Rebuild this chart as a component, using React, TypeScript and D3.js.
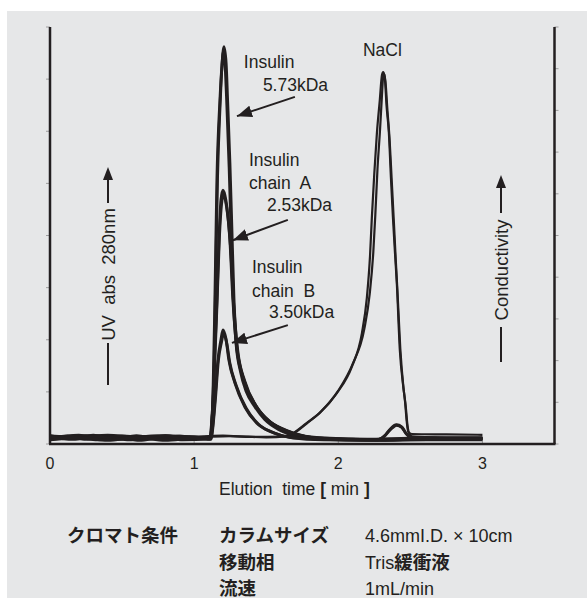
import React from "react";
import * as d3 from "d3";

// ---- data (time in min, UV abs / conductivity in arbitrary units) ----
const timeTicks = [0, 1, 2, 3];
const uvTicks = [0, 1, 2, 3, 4, 5, 6, 7, 8];
const condTicks = [0, 1, 2, 3, 4, 5, 6, 7, 8, 9, 10];

const insulinRun1: [number, number][] = [
  [0.0, 0.1], [0.12, 0.15], [0.25, 0.09], [0.4, 0.14], [0.55, 0.08], [0.7, 0.13], [0.85, 0.09], [1.0, 0.13],
  [1.11, 0.1], [1.118, 0.3], [1.13, 0.85], [1.144, 2.76], [1.158, 5.06], [1.179, 6.6], [1.193, 7.27], [1.207, 7.62],
  [1.222, 7.3], [1.232, 6.6], [1.248, 5.4], [1.262, 4.1], [1.276, 2.8], [1.292, 2.0], [1.325, 1.42], [1.368, 1.04],
  [1.425, 0.75], [1.495, 0.5], [1.59, 0.31], [1.7, 0.19], [1.8, 0.13], [1.95, 0.1], [2.1, 0.09], [2.27, 0.08],
  [2.32, 0.15], [2.36, 0.27], [2.405, 0.36], [2.44, 0.32], [2.47, 0.2], [2.5, 0.14], [2.7, 0.12], [3.0, 0.12],
];
const insulinRun2: [number, number][] = [
  [0.0, 0.16], [0.15, 0.11], [0.3, 0.17], [0.45, 0.1], [0.6, 0.16], [0.75, 0.1], [0.9, 0.15], [1.05, 0.1],
  [1.115, 0.12], [1.125, 0.5], [1.136, 1.1], [1.148, 2.9], [1.162, 5.1], [1.18, 6.5], [1.192, 7.2], [1.202, 7.52],
  [1.215, 7.25], [1.227, 6.5], [1.243, 5.3], [1.257, 4.0], [1.272, 2.75], [1.29, 1.95], [1.322, 1.38], [1.362, 1.0],
  [1.42, 0.72], [1.49, 0.47], [1.585, 0.28], [1.69, 0.17], [1.82, 0.11], [2.0, 0.08], [2.3, 0.07], [2.6, 0.1], [3.0, 0.1],
];
const chainARun1: [number, number][] = [
  [0.0, 0.12], [0.2, 0.17], [0.35, 0.1], [0.5, 0.15], [0.65, 0.1], [0.8, 0.16], [0.95, 0.11], [1.11, 0.12],
  [1.117, 0.2], [1.13, 0.84], [1.158, 2.76], [1.172, 3.91], [1.186, 4.68], [1.2, 4.87], [1.22, 4.68], [1.248, 3.91],
  [1.269, 2.76], [1.297, 1.8], [1.345, 1.23], [1.422, 0.75], [1.512, 0.46], [1.63, 0.27], [1.768, 0.15], [1.94, 0.11],
  [2.2, 0.09], [2.5, 0.11], [3.0, 0.1],
];
const chainARun2: [number, number][] = [
  [0.0, 0.09], [0.18, 0.13], [0.33, 0.08], [0.48, 0.12], [0.62, 0.07], [0.78, 0.12], [0.92, 0.08], [1.11, 0.1],
  [1.12, 0.25], [1.133, 0.9], [1.16, 2.8], [1.175, 3.95], [1.19, 4.6], [1.203, 4.78], [1.225, 4.55], [1.252, 3.8],
  [1.274, 2.7], [1.303, 1.78], [1.352, 1.2], [1.432, 0.72], [1.525, 0.43], [1.645, 0.25], [1.78, 0.14], [1.95, 0.1],
  [2.3, 0.08], [3.0, 0.08],
];
const chainBRun1: [number, number][] = [
  [0.0, 0.14], [0.16, 0.09], [0.32, 0.14], [0.47, 0.09], [0.63, 0.14], [0.8, 0.09], [0.97, 0.14], [1.115, 0.1],
  [1.123, 0.2], [1.144, 0.84], [1.165, 1.61], [1.186, 2.0], [1.2, 2.19], [1.22, 2.03], [1.241, 1.61], [1.283, 1.17],
  [1.352, 0.71], [1.435, 0.4], [1.54, 0.23], [1.664, 0.13], [1.85, 0.1], [2.1, 0.08], [2.27, 0.08], [2.323, 0.16],
  [2.358, 0.28], [2.403, 0.37], [2.44, 0.33], [2.469, 0.21], [2.5, 0.13], [2.75, 0.11], [3.0, 0.11],
];
const chainBRun2: [number, number][] = [
  [0.0, 0.08], [0.2, 0.12], [0.4, 0.07], [0.6, 0.12], [0.8, 0.07], [1.0, 0.11], [1.118, 0.09],
  [1.127, 0.25], [1.148, 0.88], [1.168, 1.6], [1.19, 1.96], [1.204, 2.12], [1.225, 1.95], [1.248, 1.55], [1.292, 1.12],
  [1.362, 0.68], [1.447, 0.38], [1.555, 0.21], [1.68, 0.12], [1.9, 0.08], [2.3, 0.07], [2.7, 0.09], [3.0, 0.09],
];
const naclRun1: [number, number][] = [
  [0.0, 0.2], [0.2, 0.17], [0.4, 0.22], [0.6, 0.18], [0.8, 0.21], [1.0, 0.18], [1.2, 0.2], [1.4, 0.17], [1.6, 0.18],
  [1.685, 0.26], [1.78, 0.5], [1.87, 0.74], [1.99, 1.22], [2.094, 1.85], [2.164, 2.66], [2.198, 3.5], [2.22, 4.5],
  [2.233, 5.44], [2.25, 6.5], [2.268, 7.46], [2.288, 8.25], [2.303, 8.85], [2.311, 8.92], [2.322, 8.8], [2.335, 8.1],
  [2.351, 7.46], [2.365, 6.4], [2.379, 5.44], [2.393, 4.6], [2.406, 3.86], [2.427, 2.25], [2.45, 1.4], [2.462, 1.06],
  [2.476, 0.5], [2.486, 0.29], [2.51, 0.24], [2.75, 0.23], [3.0, 0.22],
];
const naclRun2: [number, number][] = [
  [0.0, 0.17], [0.25, 0.21], [0.5, 0.16], [0.75, 0.2], [1.0, 0.16], [1.25, 0.19], [1.5, 0.16], [1.64, 0.18],
  [1.7, 0.28], [1.79, 0.52], [1.88, 0.78], [2.0, 1.28], [2.1, 1.92], [2.18, 2.75], [2.218, 3.6], [2.243, 4.6],
  [2.257, 5.5], [2.272, 6.6], [2.289, 7.5], [2.302, 8.3], [2.311, 8.8], [2.317, 8.88], [2.327, 8.7], [2.341, 8.0],
  [2.356, 7.3], [2.371, 6.3], [2.386, 5.3], [2.399, 4.4], [2.41, 3.7], [2.43, 2.3], [2.452, 1.35], [2.468, 0.9],
  [2.48, 0.45], [2.49, 0.27], [2.52, 0.16], [2.75, 0.15], [3.0, 0.15],
];

const uvRuns = [insulinRun1, insulinRun2, chainARun1, chainARun2, chainBRun1, chainBRun2];
const condRuns = [naclRun1, naclRun2];

// annotations: [t, uv] anchors
const labelLines: { text: string; t: number; v: number }[] = [
  { text: "NaCl", t: 2.171, v: 7.44 },
  { text: "Insulin", t: 1.345, v: 7.21 },
  { text: "5.73kDa", t: 1.477, v: 6.77 },
  { text: "Insulin", t: 1.38, v: 5.33 },
  { text: "chain  A", t: 1.38, v: 4.89 },
  { text: "2.53kDa", t: 1.505, v: 4.47 },
  { text: "Insulin", t: 1.401, v: 3.28 },
  { text: "chain  B", t: 1.401, v: 2.82 },
  { text: "3.50kDa", t: 1.519, v: 2.42 },
];
const pointers: { from: [number, number]; to: [number, number] }[] = [
  { from: [1.699, 6.66], to: [1.297, 6.29] },
  { from: [1.65, 4.3], to: [1.269, 3.91] },
  { from: [1.65, 2.28], to: [1.262, 1.94] },
];

const condLabels = ["クロマト条件"];
const condKeys = ["カラムサイズ", "移動相", "流速"];
const condValues = ["4.6mmI.D. × 10cm", "Tris|緩衝液", "1mL/min"];

const INK = "#231f20";
const FONT = "'Liberation Sans', Arial, Helvetica, sans-serif";
const JFONT = "'Noto Sans CJK JP', sans-serif";

export default function App() {
  const W = 587, H = 600;
  const left = 50, right = 554.5, top = 27, bottom = 444;
  const x = d3.scaleLinear().domain([0, 3.5]).range([left, right]);
  const yUV = d3.scaleLinear().domain([0, 8]).range([bottom, top]);
  const yC = d3.scaleLinear().domain([0, 10]).range([bottom, top]);
  const lineUV = d3.line<[number, number]>().x(d => x(d[0])).y(d => yUV(d[1])).curve(d3.curveMonotoneX);
  const lineC = d3.line<[number, number]>().x(d => x(d[0])).y(d => yC(d[1])).curve(d3.curveMonotoneX);
  const pre = { whiteSpace: "pre" as const };

  return (
    <svg width={W} height={H} style={{ position: "absolute", left: 0, top: 0, display: "block" }}>
      <defs>
        <marker id="ah" markerUnits="userSpaceOnUse" markerWidth={16} markerHeight={12} refX={15} refY={6} orient="auto">
          <path d="M0,0 L15,6 L0,12 Z" fill={INK} />
        </marker>
      </defs>
      <rect x={0} y={0} width={W} height={H} fill="#ffffff" />
      <rect x={7} y={11} width={W - 7} height={587} fill="#e6e7e8" />

      {/* ticks */}
      {uvTicks.map(t => (
        <line key={"u" + t} x1={left - 4} x2={left} y1={yUV(t)} y2={yUV(t)} stroke="#8a8a8a" strokeWidth={0.8} />
      ))}
      {condTicks.map(t => (
        <line key={"c" + t} x1={right} x2={right + 4} y1={yC(t)} y2={yC(t)} stroke="#8a8a8a" strokeWidth={0.8} />
      ))}
      {timeTicks.map(t => (
        <line key={"tt" + t} x1={x(t)} x2={x(t)} y1={bottom} y2={bottom - 3} stroke="#8a8a8a" strokeWidth={0.8} />
      ))}

      {/* traces */}
      {condRuns.map((r, i) => (
        <path key={"cr" + i} d={lineC(r) || ""} fill="none" stroke={INK} strokeWidth={2.2} strokeLinejoin="round" />
      ))}
      {uvRuns.map((r, i) => (
        <path key={"ur" + i} d={lineUV(r) || ""} fill="none" stroke={INK} strokeWidth={2.9} strokeLinejoin="round" />
      ))}

      {/* axes */}
      <line x1={left} x2={left} y1={top} y2={bottom} stroke={INK} strokeWidth={2.5} />
      <line x1={right} x2={right} y1={top} y2={bottom} stroke={INK} strokeWidth={2.5} />
      <line x1={left - 1} x2={right + 1} y1={bottom} y2={bottom} stroke={INK} strokeWidth={2.5} />

      {timeTicks.map(t => (
        <text key={"tl" + t} x={x(t)} y={469} textAnchor="middle" fontFamily={FONT} fontSize={16} fill={INK}>{t}</text>
      ))}
      <text x={219} y={495} fontFamily={FONT} fontSize={17.5} fill={INK} style={pre}>
        {"Elution  time "}<tspan fontWeight="bold">[</tspan>{" min "}<tspan fontWeight="bold">]</tspan>
      </text>

      {/* annotations */}
      {labelLines.map((l, i) => (
        <text key={"l" + i} x={x(l.t)} y={yUV(l.v)} fontFamily={FONT} fontSize={17.5} fill={INK} style={pre}>{l.text}</text>
      ))}
      {pointers.map((p, i) => (
        <line key={"p" + i} x1={x(p.from[0])} y1={yUV(p.from[1])} x2={x(p.to[0])} y2={yUV(p.to[1])} stroke={INK} strokeWidth={2} markerEnd="url(#ah)" />
      ))}

      {/* rotated axis titles */}
      <g>
        <path d="M103,180 L108,167 L113,180 Z" fill={INK} />
        <line x1={108} x2={108} y1={179} y2={203} stroke={INK} strokeWidth={2} />
        <text transform="translate(115,274.5) rotate(-90)" textAnchor="middle" fontFamily={FONT} fontSize={18.5} fill={INK} style={pre}>{"UV  abs  280nm"}</text>
        <line x1={108} x2={108} y1={343} y2={385} stroke={INK} strokeWidth={2} />
      </g>
      <g>
        <path d="M496,188 L501,175 L506,188 Z" fill={INK} />
        <line x1={501} x2={501} y1={187} y2={213} stroke={INK} strokeWidth={2} />
        <text transform="translate(507.5,270) rotate(-90)" textAnchor="middle" fontFamily={FONT} fontSize={18.5} fill={INK}>Conductivity</text>
        <line x1={501} x2={501} y1={327} y2={362} stroke={INK} strokeWidth={2} />
      </g>

      {/* conditions */}
      <text x={67} y={542} fontFamily={JFONT} fontWeight="bold" fontSize={18.5} fill={INK}>{condLabels[0]}</text>
      {condKeys.map((k, i) => (
        <text key={"k" + i} x={219} y={542 + i * 26.5} fontFamily={JFONT} fontWeight="bold" fontSize={18.5} fill={INK}>{k}</text>
      ))}
      {condValues.map((v, i) => {
        const parts = v.split("|");
        return (
          <text key={"v" + i} x={365} y={542 + i * 26.5} fontFamily={FONT} fontSize={18} fill={INK}>
            {parts[0]}
            {parts[1] ? <tspan fontFamily={JFONT} fontWeight="bold" fontSize={18.5}>{parts[1]}</tspan> : null}
          </text>
        );
      })}
    </svg>
  );
}
